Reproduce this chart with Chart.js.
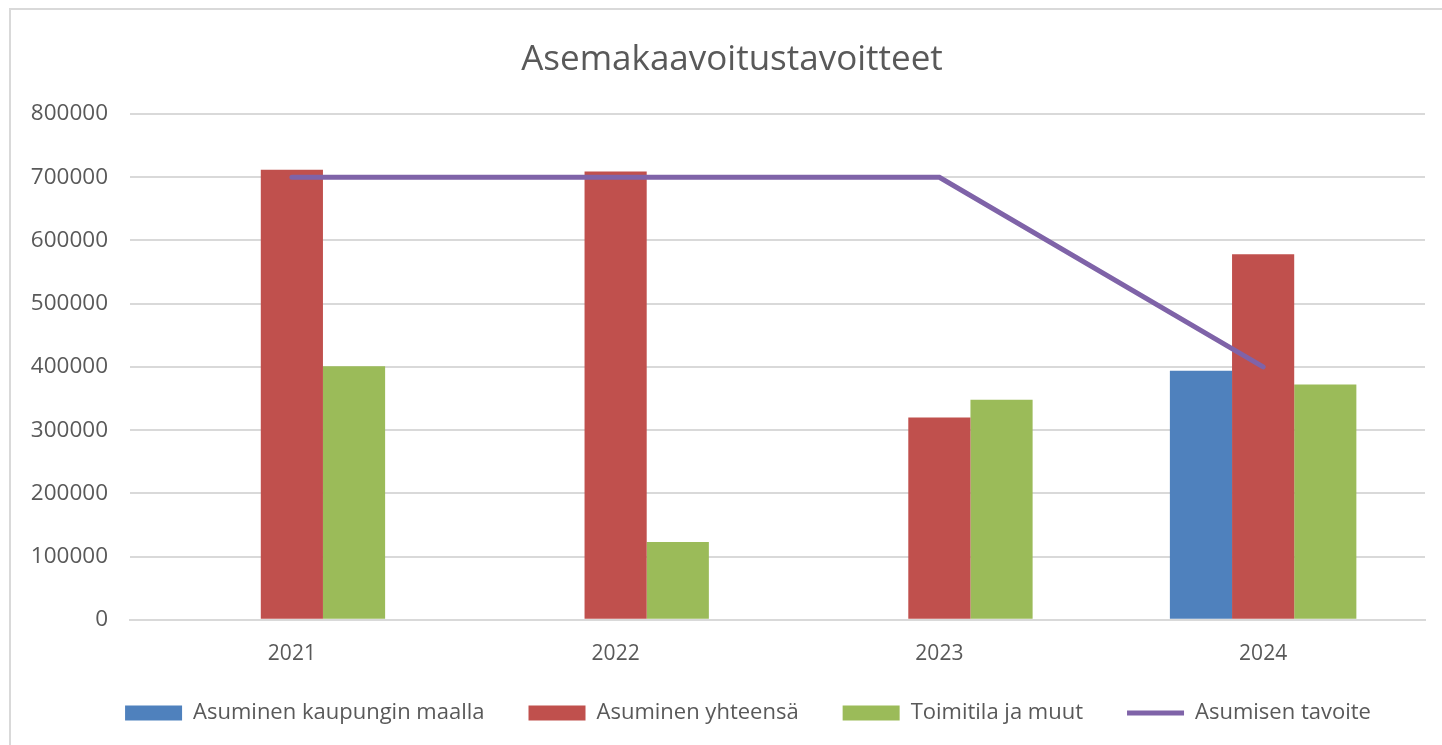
<!DOCTYPE html>
<html>
<head>
<meta charset="utf-8">
<script src="https://cdn.jsdelivr.net/npm/chart.js@4"></script>
<style>
  html, body { margin: 0; padding: 0; background: #ffffff; overflow: hidden; }
  #frame {
    position: absolute; left: 9px; top: 8px; width: 1440px; height: 745px;
    border-left: 2px solid #d9d9d9; border-top: 2px solid #d9d9d9;
    background: #ffffff;
  }
  #chartBox { position: absolute; left: 0; top: 0; width: 1431px; height: 735px; }
</style>
</head>
<body>
<div id="frame"><div id="chartBox"><canvas id="kaavaChart"></canvas></div></div>
<script>
// Chart data
const years = ["2021", "2022", "2023", "2024"];
const kaupunginMaalla = [null, null, null, 394000];
const asuminenYhteensa = [712000, 709000, 320000, 578000];
const toimitilaJaMuut = [401000, 123000, 348000, 372000];
const asumisenTavoite = [700000, 700000, 700000, 400000];

const textColor = "#595959";
const gridColor = "#d9d9d9";
const fontFamily = "'Open Sans', sans-serif";

// title and legend sit a bit right of the canvas centre in the original,
// and the legend row sits higher than the legend box would put it
const nudgeBlocks = {
    id: 'nudgeBlocks',
    afterLayout(chart) {
        if (chart.titleBlock) chart.titleBlock.left += 28;
        if (chart.legend) {
            chart.legend.left += 60;
            chart.legend.top -= 31;
        }
    }
};

const ctx = document.getElementById('kaavaChart').getContext('2d');
const kaavaChart = new Chart(ctx, {
    data: {
        labels: years,
        datasets: [
            {
                type: 'line',
                label: "Asumisen tavoite",
                data: asumisenTavoite,
                borderColor: "#7f63a8",
                backgroundColor: "#7f63a8",
                borderWidth: 5,
                borderCapStyle: 'round',
                pointRadius: 0,
                fill: false,
                order: 0
            },
            {
                type: 'bar',
                label: "Asuminen kaupungin maalla",
                data: kaupunginMaalla,
                backgroundColor: "#4f81bd",
                order: 1
            },
            {
                type: 'bar',
                label: "Asuminen yhteensä",
                data: asuminenYhteensa,
                backgroundColor: "#c0504d",
                order: 1
            },
            {
                type: 'bar',
                label: "Toimitila ja muut",
                data: toimitilaJaMuut,
                backgroundColor: "#9bbb59",
                order: 1
            }
        ]
    },
    plugins: [nudgeBlocks],
    options: {
        responsive: true,
        maintainAspectRatio: false,
        animation: false,
        datasets: {
            bar: { categoryPercentage: 0.576, barPercentage: 1.0 }
        },
        layout: { padding: { left: 0, right: 17, top: 0, bottom: 0 } },
        plugins: {
            title: {
                display: true,
                text: "Asemakaavoitustavoitteet",
                color: textColor,
                font: { family: fontFamily, size: 35, weight: 'normal' },
                padding: { top: 29, bottom: 33 }
            },
            legend: {
                position: 'bottom',
                maxHeight: 56,
                labels: {
                    color: textColor,
                    font: { family: fontFamily, size: 22 },
                    usePointStyle: true,
                    pointStyleWidth: 57,
                    boxHeight: 15,
                    padding: 44,
                    generateLabels(chart) {
                        // bars first, line last, like the original legend
                        const items = Chart.defaults.plugins.legend.labels.generateLabels(chart);
                        items.forEach(it => {
                            const ds = chart.data.datasets[it.datasetIndex];
                            it.pointStyle = ds.type === 'line' ? 'line' : 'rect';
                            it.lineWidth = ds.type === 'line' ? 5 : 0;
                            it.strokeStyle = ds.type === 'line' ? ds.borderColor : ds.backgroundColor;
                        });
                        return items.slice(1).concat(items.slice(0, 1));
                    }
                }
            },
            tooltip: { enabled: false }
        },
        scales: {
            x: {
                grid: { display: false, drawTicks: false },
                border: { display: true, color: gridColor, width: 2 },
                ticks: {
                    color: textColor,
                    font: { family: fontFamily, size: 21 },
                    padding: 22
                }
            },
            y: {
                min: 0,
                max: 800000,
                grid: { color: gridColor, lineWidth: 2, drawTicks: false },
                border: { display: false },
                ticks: {
                    stepSize: 100000,
                    color: textColor,
                    font: { family: fontFamily, size: 22.5 },
                    padding: 22,
                    callback: v => String(v)
                },
                afterFit(scale) { scale.width = 119; }
            }
        }
    }
});
</script>
</body>
</html>
